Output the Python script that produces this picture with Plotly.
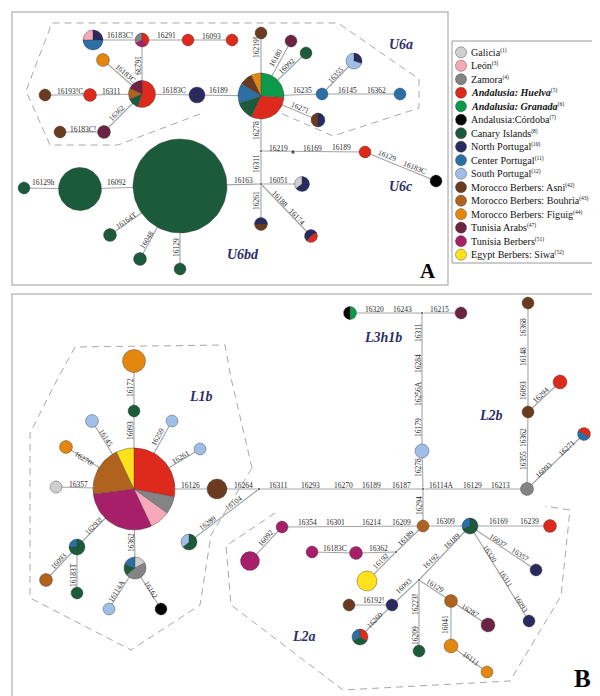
import numpy as np
import plotly.graph_objects as go

# ---------------- populations / legend ----------------
pop_names = ["Galicia", "León", "Zamora", "<b><i>Andalusia: Huelva</i></b>", "<b><i>Andalusia: Granada</i></b>",
             "Andalusia:Córdoba", "Canary Islands", "North Portugal", "Center Portugal", "South Portugal",
             "Morocco Berbers: Asni", "Morocco Berbers: Bouhria", "Morocco Berbers: Figuig",
             "Tunisia Arabs", "Tunisia Berbers", "Egypt Berbers: Siwa"]
pop_refs = ["1", "3", "4", "5", "6", "7", "8", "10", "11", "12", "42", "43", "44", "47", "51", "52"]
pop_colors = ["#cfcfcf", "#f7a9b9", "#848484", "#de2a1c", "#0b9b4b", "#050505", "#1b5a3b", "#2b2a5e",
              "#2b6fa7", "#9fbfe8", "#6a3b1f", "#b0621f", "#e3870f", "#6d2443", "#a71f69", "#ffe11c"]

# ---------------- haplotype nodes ----------------
node_id = ["A0", "A1", "A2", "A3", "A4", "A5", "A6", "A7", "A8", "A9", "A10", "A11", "A12", "A13", "A14",
           "A15", "A16", "A17", "A18", "A19", "A20", "A21", "A22", "A23", "A24", "A25", "A26", "A27", "A28",
           "A29",
           "B0", "B1", "B2", "B3", "B4", "B5", "B6", "B7", "B8", "B9", "B10", "B11", "B12", "B13", "B14",
           "B15", "B16", "B17", "B18", "B19", "B20", "B21", "B22", "B23", "B24", "B25", "B26", "B27", "B28",
           "B29", "B30", "B31", "B32", "B33", "B34", "B35", "B36", "B37", "B38", "B39", "B40", "B41"]
node_x = [85, 134, 180, 224, 95, 134, 37, 82, 189, 52, 96, 253, 253, 283, 298,
          314, 346, 392, 310, 357, 428, 294, 172, 72, 16, 102, 132, 172, 253, 303,
          126, 126, 126, 84, 164, 192, 58, 48, 209, 181, 69, 38, 69, 127, 101,
          153, 342, 453, 414, 520, 520, 552, 576, 519, 415, 274, 242, 304, 348,
          359, 462, 542, 528, 521, 384, 341, 352, 411, 443, 480, 443, 479]
node_y = [32, 32, 32, 32, 52, 86, 87, 87, 87, 124, 124, 88, 25, 33, 45,
          86, 53, 86, 112, 144, 173, 176, 178, 181, 180, 227, 251, 261, 216, 228,
          353, 403, 481, 413, 413, 441, 439, 479, 481, 534, 539, 572, 585, 560, 601,
          601, 305, 305, 443, 295, 404, 374, 426, 481, 518, 519, 553, 544, 545,
          573, 518, 518, 562, 613, 597, 597, 629, 643, 593, 617, 638, 664]
node_r = [10, 7, 6, 6, 6.5, 13.5, 6, 6.5, 8, 6, 6.5, 23, 6, 6, 6,
          6, 8, 6, 7, 6, 6, 7.5, 47, 21.5, 6, 6.5, 6.5, 6, 6.5, 6.5,
          11.5, 6, 41, 6.5, 6, 6, 6.5, 6, 10, 8, 8, 6.5, 6, 11, 6,
          6, 6.5, 6, 7, 6, 6, 7, 6.5, 6.5, 6, 6, 9.5, 6, 6.5,
          10, 8, 6.5, 6, 6, 6, 6, 8, 6, 6.5, 7, 7, 6]
node_pops = [[1, 7, 8], [3, 14, 2], [3], [3], [12], [3, 6, 11, 13], [10], [3], [7], [10], [13],
             [4, 3, 6, 8, 10, 12], [10], [13], [6], [8], [7, 9], [8], [7, 10], [3], [5], [7, 0],
             [6], [6], [6], [6], [6], [6], [7, 10], [7, 3],
             [12], [6], [3, 2, 1, 14, 11, 15], [9], [9], [9], [12], [0], [10], [6, 9], [6, 8], [11],
             [6], [0, 2, 6, 8], [9], [5], [4, 5], [13], [9], [10], [10], [3], [3, 8], [2], [11], [14],
             [14], [14], [14], [15], [6, 8], [3], [7], [7], [7], [10], [3, 6, 8], [6], [11], [13],
             [12], [12]]
node_share = [[.25, .25, .5], [.38, .30, .32], [1], [1], [1], [.55, .14, .13, .18], [1], [1], [1], [1], [1],
              [.26, .31, .13, .14, .09, .07], [1], [1], [1], [1], [.3, .7], [1], [.5, .5], [1], [1], [.65, .35],
              [1], [1], [1], [1], [1], [1], [.5, .5], [.55, .45],
              [1], [1], [.28, .07, .08, .30, .20, .07], [1], [1], [1], [1], [1], [1], [.64, .36], [.75, .25], [1],
              [1], [.17, .47, .17, .19], [1], [1], [.5, .5], [1], [1], [1], [1], [1], [.5, .5], [1], [1], [1],
              [1], [1], [1], [1], [.7, .3], [1], [1], [1], [1], [1], [.33, .34, .33], [1], [1], [1],
              [1], [1]]
node_start = {"A0": 270, "A28": 270, "A29": 220, "B22": 300}

# median vectors / branching points
junc_id = ["JA1", "JA2", "JA3", "JB1", "JB2", "JB3", "JB4", "JB5"]
junc_x = [253, 285, 253, 251, 414, 415, 388, 411]
junc_y = [143, 144, 176, 481, 305, 481, 544, 572]

edges = [("A0", "A1"), ("A1", "A2"), ("A2", "A3"), ("A1", "A5"), ("A4", "A5"), ("A6", "A7"), ("A7", "A5"),
         ("A5", "A8"), ("A8", "A11"), ("A5", "A10"), ("A9", "A10"), ("A12", "A11"), ("A11", "A13"),
         ("A11", "A14"), ("A11", "A15"), ("A15", "A17"), ("A15", "A16"), ("A11", "A18"), ("A11", "JA1"),
         ("JA1", "A19"), ("A19", "A20"), ("JA1", "JA3"), ("JA3", "A21"), ("A22", "JA3"), ("JA3", "A28"),
         ("JA3", "A29"), ("A24", "A23"), ("A23", "A22"), ("A22", "A25"), ("A22", "A26"), ("A22", "A27"),
         ("B0", "B1"), ("B1", "B2"), ("B2", "B3"), ("B2", "B4"), ("B2", "B5"), ("B2", "B6"), ("B2", "B7"),
         ("B2", "B8"), ("B2", "B10"), ("B2", "B13"), ("B10", "B11"), ("B10", "B12"), ("B13", "B14"),
         ("B13", "B15"), ("JB1", "B9"), ("B8", "JB1"), ("JB1", "JB3"), ("JB3", "B23"),
         ("B16", "JB2"), ("JB2", "B17"), ("JB2", "B18"), ("B18", "JB3"),
         ("B23", "B20"), ("B20", "B19"), ("B20", "B21"), ("B23", "B22"),
         ("JB3", "B24"), ("B24", "B25"), ("B25", "B26"), ("B27", "B28"), ("B28", "JB4"), ("JB4", "B24"),
         ("JB4", "B29"), ("B24", "B30"), ("B30", "B31"), ("B30", "B32"), ("B30", "B33"), ("B30", "JB5"),
         ("JB5", "B34"), ("B34", "B35"), ("B34", "B36"), ("JB5", "B37"), ("JB5", "B38"), ("B38", "B39"),
         ("B38", "B40"), ("B40", "B41")]

# mutation labels
lab_text = ["16183C!", "16291", "16093", "16239", "16183C", "16193!C", "16311", "16183C", "16189", "16362",
            "16183C!", "16219!", "16180", "16092", "16235", "16145", "16362", "16355", "16271", "16278",
            "16219", "16169", "16189", "16129", "16183C", "16311", "16163", "16051", "16261", "16188",
            "16174", "16129h", "16092", "16164T", "16048", "16129",
            "16172", "16093", "16145", "16259", "16261", "16270!", "16357", "16126", "16293!", "16362",
            "16093", "16183T", "16114A", "16162", "16104", "16289",
            "16264", "16311", "16293", "16270", "16189", "16187", "16114A", "16129", "16213",
            "16320", "16243", "16215", "16311", "16284", "16256A", "16179", "16278",
            "16368", "16148", "16093", "16294", "16362", "16355", "16093", "16271",
            "16294", "16354", "16301", "16214", "16209", "16092", "16183C", "16362", "16189", "16192",
            "16309", "16169", "16239", "16037", "16357", "16320", "16311", "16093", "16189", "16192",
            "16093", "16192!", "16260", "16223!", "16209", "16129", "16287", "16041", "16111"]
lab_x = [112, 158, 203, 130, 118, 62, 103, 166, 210, 108,
         75, 248, 267, 278, 294, 339, 368, 327, 292, 248,
         270, 304, 333, 379, 407, 248, 235, 270, 248, 272,
         289, 35, 108, 118, 138, 168,
         122, 122, 98, 149, 172, 76, 70, 182, 85, 123,
         50, 65, 108, 143, 225, 199,
         235, 270, 302, 335, 363, 393, 433, 464, 492,
         366, 394, 431, 410, 410, 410, 410, 410,
         515, 515, 515, 532, 515, 515, 535, 558,
         411, 299, 327, 363, 393, 257, 327, 370, 397, 372,
         437, 490, 521, 490, 512, 482, 498, 513, 443, 422,
         395, 365, 366, 407, 407, 427, 462, 437, 463]
lab_y = [27, 27, 28, 57, 65, 83, 83, 82, 82, 105,
         121, 40, 50, 58, 82, 82, 82, 67, 99, 123,
         140, 140, 139, 147, 159, 156, 172, 172, 193, 190,
         208, 174, 174, 212, 232, 240,
         380, 423, 429, 429, 449, 450, 476, 477, 518, 535,
         553, 567, 583, 581, 495, 515,
         477, 477, 477, 477, 477, 477, 477, 477, 477,
         301, 301, 301, 325, 356, 386, 420, 460,
         320, 349, 383, 387, 430, 453, 462, 440,
         498, 514, 514, 514, 514, 530, 540, 540, 530, 553,
         513, 513, 513, 532, 546, 545, 570, 595, 533, 553,
         578, 592, 612, 597, 628, 577, 602, 617, 650]
lab_ang = [0, 0, 0, 90, 41, 0, 0, 0, 0, -45,
           0, -90, -61, -44, 0, 0, 0, -46, 23, -90,
           0, 0, 0, 22, 22, -90, 0, 0, -90, 46,
           46, 0, 0, -35, -57, -90,
           -90, -90, 58, -61, -31, 32, 0, 0, -45, -90,
           -47, -90, -58, 58, -37, -37,
           0, 0, 0, 0, 0, 0, 0, 0, 0,
           0, 0, 0, -90, -90, -90, -90, -90,
           -90, -90, -90, -43, -90, -90, -44, -44,
           -90, 0, 0, 0, 0, -48, 0, 0, -44, -45,
           0, 0, 0, 34, 34, 58, 58, 58, -43, -43,
           -43, 0, -45, -90, -90, 33, 33, -90, 36]

group_text = ["U6a", "U6c", "U6bd", "L1b", "L3h1b", "L2b", "L2a"]
group_x = [393, 393, 235, 193, 375, 483, 296]
group_y = [36, 178, 246, 388, 329, 407, 628]

# ---------------- build figure ----------------
fig = go.Figure()
pos = {n: (x, y) for n, x, y in zip(node_id, node_x, node_y)}
pos.update({n: (x, y) for n, x, y in zip(junc_id, junc_x, junc_y)})

LINE_C = "#a3a3a3"
DASH_C = "#a8a8a8"

# panel frames
fig.add_shape(type="rect", x0=4, y0=4, x1=440, y1=277, line=dict(color="#bdbdbd", width=1.5), layer="below")
fig.add_shape(type="rect", x0=4, y0=286, x1=595, y1=694, line=dict(color="#bdbdbd", width=1.5), layer="below")
fig.add_shape(type="rect", x0=444, y0=33, x1=593, y1=255, line=dict(color="#9a9a9a", width=1), layer="below")

# dashed haplogroup outlines
dashed = [
    [(192, 106), (110, 137), (42, 137), (18, 83), (44, 15), (330, 15), (411, 71), (411, 100), (325, 128), (270, 104)],
    [(244, 460), (223, 370), (217, 337), (67, 339), (50, 370), (22, 425), (22, 590), (123, 642), (192, 597),
     (203, 527), (244, 460)],
    [(267, 505), (218, 538), (223, 597), (335, 682), (502, 673), (553, 588), (562, 502), (537, 498)],
]
for poly in dashed:
    fig.add_trace(go.Scatter(x=[p[0] for p in poly], y=[p[1] for p in poly], mode="lines",
                             line=dict(color=DASH_C, width=1, dash="7px,5px"), hoverinfo="skip",
                             showlegend=False))

# edges
ex, ey = [], []
for a, b in edges:
    ex += [pos[a][0], pos[b][0], None]
    ey += [pos[a][1], pos[b][1], None]
fig.add_trace(go.Scatter(x=ex, y=ey, mode="lines", line=dict(color=LINE_C, width=1.1),
                         hoverinfo="skip", showlegend=False))

# junction dots
fig.add_trace(go.Scatter(x=junc_x, y=junc_y, mode="markers",
                         marker=dict(size=[3, 4, 3, 3, 3, 3, 3, 3], color="#111",
                                     symbol=["circle", "square", "circle", "circle", "circle", "circle",
                                             "circle", "circle"]),
                         hoverinfo="skip", showlegend=False))


def arc(cx, cy, r, a0, a1):
    n = max(8, int(abs(a1 - a0) / 4))
    t = np.radians(np.linspace(a0, a1, n + 1))
    return list(cx + r * np.sin(t)), list(cy - r * np.cos(t))


fills = {i: ([], []) for i in range(len(pop_colors))}
ox, oy = [], []


def draw_node(cx, cy, r, pops, share, start=0):
    a = start
    for p, s in zip(pops, share):
        a1 = a + 360 * s
        xs, ys = arc(cx, cy, r, a, a1)
        if len(pops) > 1:
            xs = [cx] + xs + [cx]
            ys = [cy] + ys + [cy]
            ox.extend([cx, cx + r * np.sin(np.radians(a)), None])
            oy.extend([cy, cy - r * np.cos(np.radians(a)), None])
        fills[p][0].extend(xs + [None])
        fills[p][1].extend(ys + [None])
        a = a1
    xs, ys = arc(cx, cy, r, 0, 360)
    ox.extend(xs + [None])
    oy.extend(ys + [None])


for n, x, y, r, pp, ss in zip(node_id, node_x, node_y, node_r, node_pops, node_share):
    draw_node(x, y, r, pp, ss, node_start.get(n, 0))

# legend symbols
leg_y = [44.3 + 13.49 * i for i in range(len(pop_names))]
for i, yy in enumerate(leg_y):
    draw_node(453, yy, 5.6, [i], [1])

for i, c in enumerate(pop_colors):
    fx, fy = fills[i]
    if fx:
        fig.add_trace(go.Scatter(x=fx, y=fy, mode="lines", fill="toself", fillcolor=c,
                                 line=dict(width=0, color=c), hoverinfo="skip", showlegend=False))
fig.add_trace(go.Scatter(x=ox, y=oy, mode="lines", line=dict(color="rgba(50,50,50,0.65)", width=0.6),
                         hoverinfo="skip", showlegend=False))

ann = []
for t, x, y, a in zip(lab_text, lab_x, lab_y, lab_ang):
    ann.append(dict(x=x, y=y, text=t, textangle=a, showarrow=False,
                    font=dict(family="Liberation Serif", size=7.5, color="#2a2a2a")))
for t, x, y in zip(group_text, group_x, group_y):
    ann.append(dict(x=x, y=y, text="<b><i>" + t + "</i></b>", showarrow=False,
                    font=dict(family="Liberation Serif", size=14, color="#2e2d68")))
ann.append(dict(x=420, y=263, text="<b>A</b>", showarrow=False,
                font=dict(family="Liberation Serif", size=21, color="#000")))
ann.append(dict(x=574, y=670, text="<b>B</b>", showarrow=False,
                font=dict(family="Liberation Serif", size=25, color="#000")))
for nm, rf, yy in zip(pop_names, pop_refs, leg_y):
    ann.append(dict(x=461, y=yy, xanchor="left",
                    text=nm + "<sup><span style='font-size:5.5px'>(" + rf + ")</span></sup>", showarrow=False,
                    font=dict(family="Liberation Serif", size=10.1, color="#111")))

fig.update_layout(
    width=600, height=696, margin=dict(l=0, r=0, t=0, b=0),
    plot_bgcolor="white", paper_bgcolor="white", annotations=ann,
    xaxis=dict(range=[0, 600], visible=False, fixedrange=True),
    yaxis=dict(range=[696, 0], visible=False, fixedrange=True),
)
fig.write_html("out.html")
